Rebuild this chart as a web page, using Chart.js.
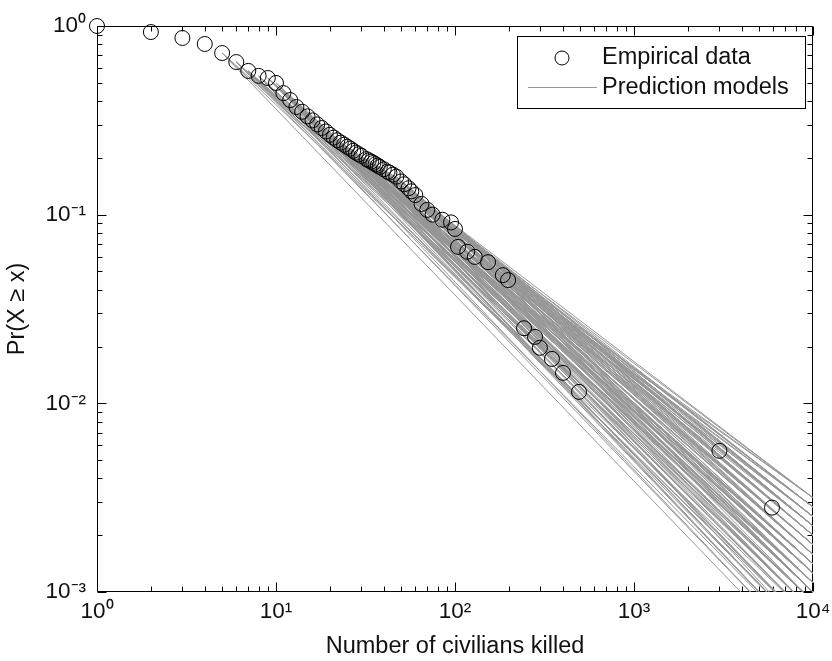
<!DOCTYPE html>
<html><head><meta charset="utf-8">
<script src="https://cdn.jsdelivr.net/npm/chart.js@4.4.1/dist/chart.umd.min.js"></script>
<style>html,body{margin:0;padding:0;background:#fff;}#wrap{width:832px;height:661px;position:relative;}</style>
</head><body><div id="wrap"><canvas id="c" width="832" height="661"></canvas></div>
<script>
// ---- data ----
const empiricalX = [1,2,3,4,5,6,7,8,9,10,11,12,13,14,15,16,17,18,19,20,21,22,23,24,25,26,27,28,29,30,32,33,34,35,36,37,38,40,42,43,45,47,50,52,55,57,60,65,70,75,85,95,100,104,117,129,153,185,198,243,280,298,348,401,493,3000,5900];
const empiricalY = [1.0,0.929,0.864,0.803,0.719,0.644,0.578,0.544,0.530,0.499,0.441,0.405,0.372,0.351,0.332,0.316,0.301,0.288,0.276,0.265,0.256,0.248,0.241,0.235,0.229,0.224,0.218,0.213,0.209,0.205,0.197,0.194,0.191,0.188,0.185,0.182,0.179,0.174,0.169,0.167,0.163,0.159,0.150,0.145,0.138,0.133,0.127,0.114,0.106,0.100,0.094,0.091,0.084,0.0675,0.0636,0.0597,0.056,0.0478,0.045,0.025,0.0225,0.0197,0.0172,0.0145,0.0115,0.0056,0.0028];

// prediction models: start (xmin, P at xmin) and value at x = 10^4
const modelXmin   = [6,6,6,7,7,7,8,8,8,9,9,9,10,10,10,11,11,12,12,12,
                     14,14,15,15,16,16,17,18,18,19,20,20,21,22,23,24,25,26,27,28,29,30,32,33,34,35,36,37,38,40,42,43,45,47,50,
                     52,55,57,60,65,70,70,75,85,85,95,95,100,100,104,117,129,153,153,185,198,198,60,47,30,
                     5,5,5,6,6,7,7,8,8,9,9,10,10,11,11,12,12,13,13,13,
                     14,15,16,17,17,18,19,20,21,22,23,24,25,26,27,28,30,32,34,36,38,40,43,45,50,
                     55,57,65,75,85,100,104,117,129,185];
const modelPStart = [0.644,0.644,0.644,0.578,0.578,0.578,0.544,0.544,0.544,0.530,0.530,0.530,0.499,0.499,0.499,0.441,0.441,0.405,0.405,0.405,
                     0.351,0.351,0.332,0.332,0.316,0.316,0.301,0.288,0.288,0.276,0.265,0.265,0.256,0.248,0.241,0.235,0.229,0.224,0.218,0.213,0.209,0.205,0.197,0.194,0.191,0.188,0.185,0.182,0.179,0.174,0.169,0.167,0.163,0.159,0.150,
                     0.145,0.138,0.133,0.127,0.114,0.106,0.106,0.100,0.094,0.094,0.091,0.091,0.084,0.084,0.0675,0.0636,0.0597,0.056,0.056,0.0478,0.045,0.045,0.127,0.159,0.205,
                     0.719,0.719,0.719,0.644,0.644,0.578,0.578,0.544,0.544,0.530,0.530,0.499,0.499,0.441,0.441,0.405,0.405,0.372,0.372,0.372,
                     0.351,0.332,0.316,0.301,0.301,0.288,0.276,0.265,0.256,0.248,0.241,0.235,0.229,0.224,0.218,0.213,0.205,0.197,0.191,0.185,0.179,0.174,0.167,0.163,0.150,
                     0.138,0.133,0.114,0.100,0.094,0.084,0.0675,0.0636,0.0597,0.0478];
const modelPEnd   = [5.0e-4,8.9e-4,1.41e-3,6.3e-4,1.12e-3,4.5e-4,7.9e-4,1.26e-3,5.6e-4,1.0e-3,7.1e-4,1.58e-3,8.9e-4,5.0e-4,1.26e-3,7.9e-4,1.12e-3,6.3e-4,1.0e-3,1.41e-3,
                     5.6e-4,1.0e-3,7.9e-4,1.26e-3,6.3e-4,1.58e-3,8.9e-4,1.12e-3,5.0e-4,1.41e-3,7.1e-4,1.78e-3,1.0e-3,1.26e-3,6.3e-4,1.58e-3,8.9e-4,2.0e-3,1.12e-3,1.41e-3,7.9e-4,1.78e-3,1.0e-3,2.24e-3,1.26e-3,1.58e-3,5.6e-4,2.0e-3,1.12e-3,1.41e-3,2.51e-3,8.9e-4,1.78e-3,2.24e-3,1.26e-3,
                     2.0e-3,1.58e-3,2.51e-3,1.12e-3,2.24e-3,1.78e-3,2.82e-3,1.41e-3,2.51e-3,2.0e-3,3.16e-3,1.58e-3,2.82e-3,2.24e-3,1.78e-3,2.51e-3,2.0e-3,3.16e-3,2.51e-3,2.82e-3,2.24e-3,3.16e-3,2.82e-3,1.0e-3,2.51e-3,
                     4.0e-4,7.1e-4,1.12e-3,6.3e-4,1.12e-3,8.9e-4,1.41e-3,1.0e-3,4.5e-4,1.26e-3,5.0e-4,7.1e-4,1.12e-3,5.6e-4,1.41e-3,7.9e-4,1.26e-3,5.6e-4,8.9e-4,1.26e-3,
                     1.41e-3,5.6e-4,1.0e-3,1.41e-3,6.3e-4,1.78e-3,8.9e-4,1.26e-3,1.58e-3,7.9e-4,1.12e-3,2.0e-3,1.41e-3,7.1e-4,1.78e-3,1.0e-3,1.26e-3,2.0e-3,7.9e-4,1.78e-3,2.24e-3,1.0e-3,2.0e-3,1.26e-3,2.24e-3,
                     2.24e-3,1.26e-3,1.58e-3,2.51e-3,2.82e-3,3.16e-3,2.24e-3,2.82e-3,2.51e-3,2.24e-3];
const modelXEnd = 10000;

const xTickValues = [1,10,100,1000,10000];
const xTickLabels = ['10\u2070','10\u00B9','10\u00B2','10\u00B3','10\u2074'];
const yTickValues = [0.001,0.01,0.1,1];
const yTickLabels = ['10\u207B\u00B3','10\u207B\u00B2','10\u207B\u00B9','10\u2070'];
const xTitle = 'Number of civilians killed';
const yTitle = 'Pr(X \u2265 x)';
const legendLabels = ['Empirical data','Prediction models'];

// ---- chart ----
const FONT = '"Liberation Sans", Arial, sans-serif';
const TEXT = '#111';
const LINE_GRAY = 'rgb(150,150,150)';

const datasets = [];
datasets.push({
  label: legendLabels[0],
  data: empiricalX.map((x,i)=>({x:x, y:empiricalY[i]})),
  showLine:false, pointStyle:'circle', pointRadius:7.5, pointHoverRadius:7.5,
  borderColor:'#000', backgroundColor:'rgba(0,0,0,0)', borderWidth:1, clip:false
});
modelXmin.forEach((xm,i)=>{
  datasets.push({
    label: legendLabels[1],
    data: [{x:xm, y:modelPStart[i]}, {x:modelXEnd, y:modelPEnd[i]}],
    showLine:true, pointRadius:0, borderColor:LINE_GRAY, borderWidth:1, fill:false
  });
});

function labelFor(values, labels){
  return function(v){
    for (let i=0;i<values.length;i++){ if (Math.abs(Math.log10(v)-Math.log10(values[i]))<1e-6) return labels[i]; }
    return '';
  };
}

const framePlugin = {
  id:'frame',
  beforeDatasetsDraw(chart){
    const {ctx, chartArea:a, scales} = chart;
    const xs = scales.x, ys = scales.y;
    ctx.save();
    ctx.strokeStyle = '#000'; ctx.lineWidth = 1;
    const L = Math.round(a.left)+0.5, R = Math.round(a.right)-0.5, T = Math.round(a.top)+0.5, B = Math.round(a.bottom)-0.5;
    ctx.beginPath();
    ctx.rect(L,T,R-L,B-T);
    for (let e=0;e<=4;e++){
      for (let m=1;m<=9;m++){
        const v = m*Math.pow(10,e); if (v>xTickValues[xTickValues.length-1]) break;
        const px = Math.round(xs.getPixelForValue(v))+0.5;
        const len = m===1?9:5;
        ctx.moveTo(px,B); ctx.lineTo(px,B-len);
        ctx.moveTo(px,T); ctx.lineTo(px,T+len);
      }
    }
    for (let e=-3;e<=0;e++){
      for (let m=1;m<=9;m++){
        const v = m*Math.pow(10,e); if (v>yTickValues[yTickValues.length-1]*1.0001) break;
        const py = Math.round(ys.getPixelForValue(v))+0.5;
        const len = m===1?9:5;
        ctx.moveTo(L,py); ctx.lineTo(L+len,py);
        ctx.moveTo(R,py); ctx.lineTo(R-len,py);
      }
    }
    ctx.stroke();
    ctx.restore();
  }
};

const legendPlugin = {
  id:'boxLegend',
  afterDraw(chart){
    const {ctx, chartArea:a} = chart;
    const w = 288, h = 72;
    const left = a.right - 8 - w, top = a.top + 10;
    ctx.save();
    ctx.fillStyle = '#fff';
    ctx.fillRect(left, top, w, h);
    ctx.strokeStyle = '#000'; ctx.lineWidth = 1;
    ctx.strokeRect(Math.round(left)+0.5, Math.round(top)+0.5, w, h);
    ctx.beginPath(); ctx.arc(left+45, top+22, 7, 0, Math.PI*2); ctx.stroke();
    ctx.strokeStyle = LINE_GRAY;
    ctx.beginPath(); ctx.moveTo(left+11, top+51.5); ctx.lineTo(left+80, top+51.5); ctx.stroke();
    ctx.fillStyle = TEXT;
    ctx.font = '23.5px ' + FONT;
    ctx.textBaseline = 'middle'; ctx.textAlign = 'left';
    ctx.fillText(legendLabels[0], left+85, top+22);
    ctx.fillText(legendLabels[1], left+85, top+52);
    ctx.restore();
  }
};

new Chart(document.getElementById('c'), {
  type:'scatter',
  data:{datasets},
  options:{
    responsive:false, animation:false,
    layout:{padding:{top:26,right:19,bottom:0,left:0}},
    plugins:{legend:{display:false}, tooltip:{enabled:false}},
    scales:{
      x:{
        type:'logarithmic', min:1, max:10000, position:'bottom',
        afterBuildTicks(s){ s.ticks = xTickValues.map(v=>({value:v})); },
        afterFit(s){ s.height = 69; s.paddingLeft = 0; s.paddingRight = 0; },
        grid:{display:false, drawTicks:false}, border:{display:false},
        ticks:{autoSkip:false, maxRotation:0, padding:6, color:TEXT, font:{family:FONT,size:22.5}, callback:labelFor(xTickValues,xTickLabels)},
        title:{display:true, text:xTitle, color:TEXT, font:{family:FONT,size:23.5}, padding:{top:0,bottom:0}}
      },
      y:{
        type:'logarithmic', min:0.001, max:1, position:'left',
        afterBuildTicks(s){ s.ticks = yTickValues.map(v=>({value:v})); },
        afterFit(s){ s.width = 97; s.paddingTop = 0; s.paddingBottom = 0; },
        grid:{display:false, drawTicks:false}, border:{display:false},
        ticks:{autoSkip:false, padding:11, color:TEXT, font:{family:FONT,size:22.5}, callback:labelFor(yTickValues,yTickLabels)},
        title:{display:true, text:yTitle, color:TEXT, font:{family:FONT,size:23.5}, padding:{top:3,bottom:0}}
      }
    }
  },
  plugins:[framePlugin, legendPlugin]
});
</script></body></html>
